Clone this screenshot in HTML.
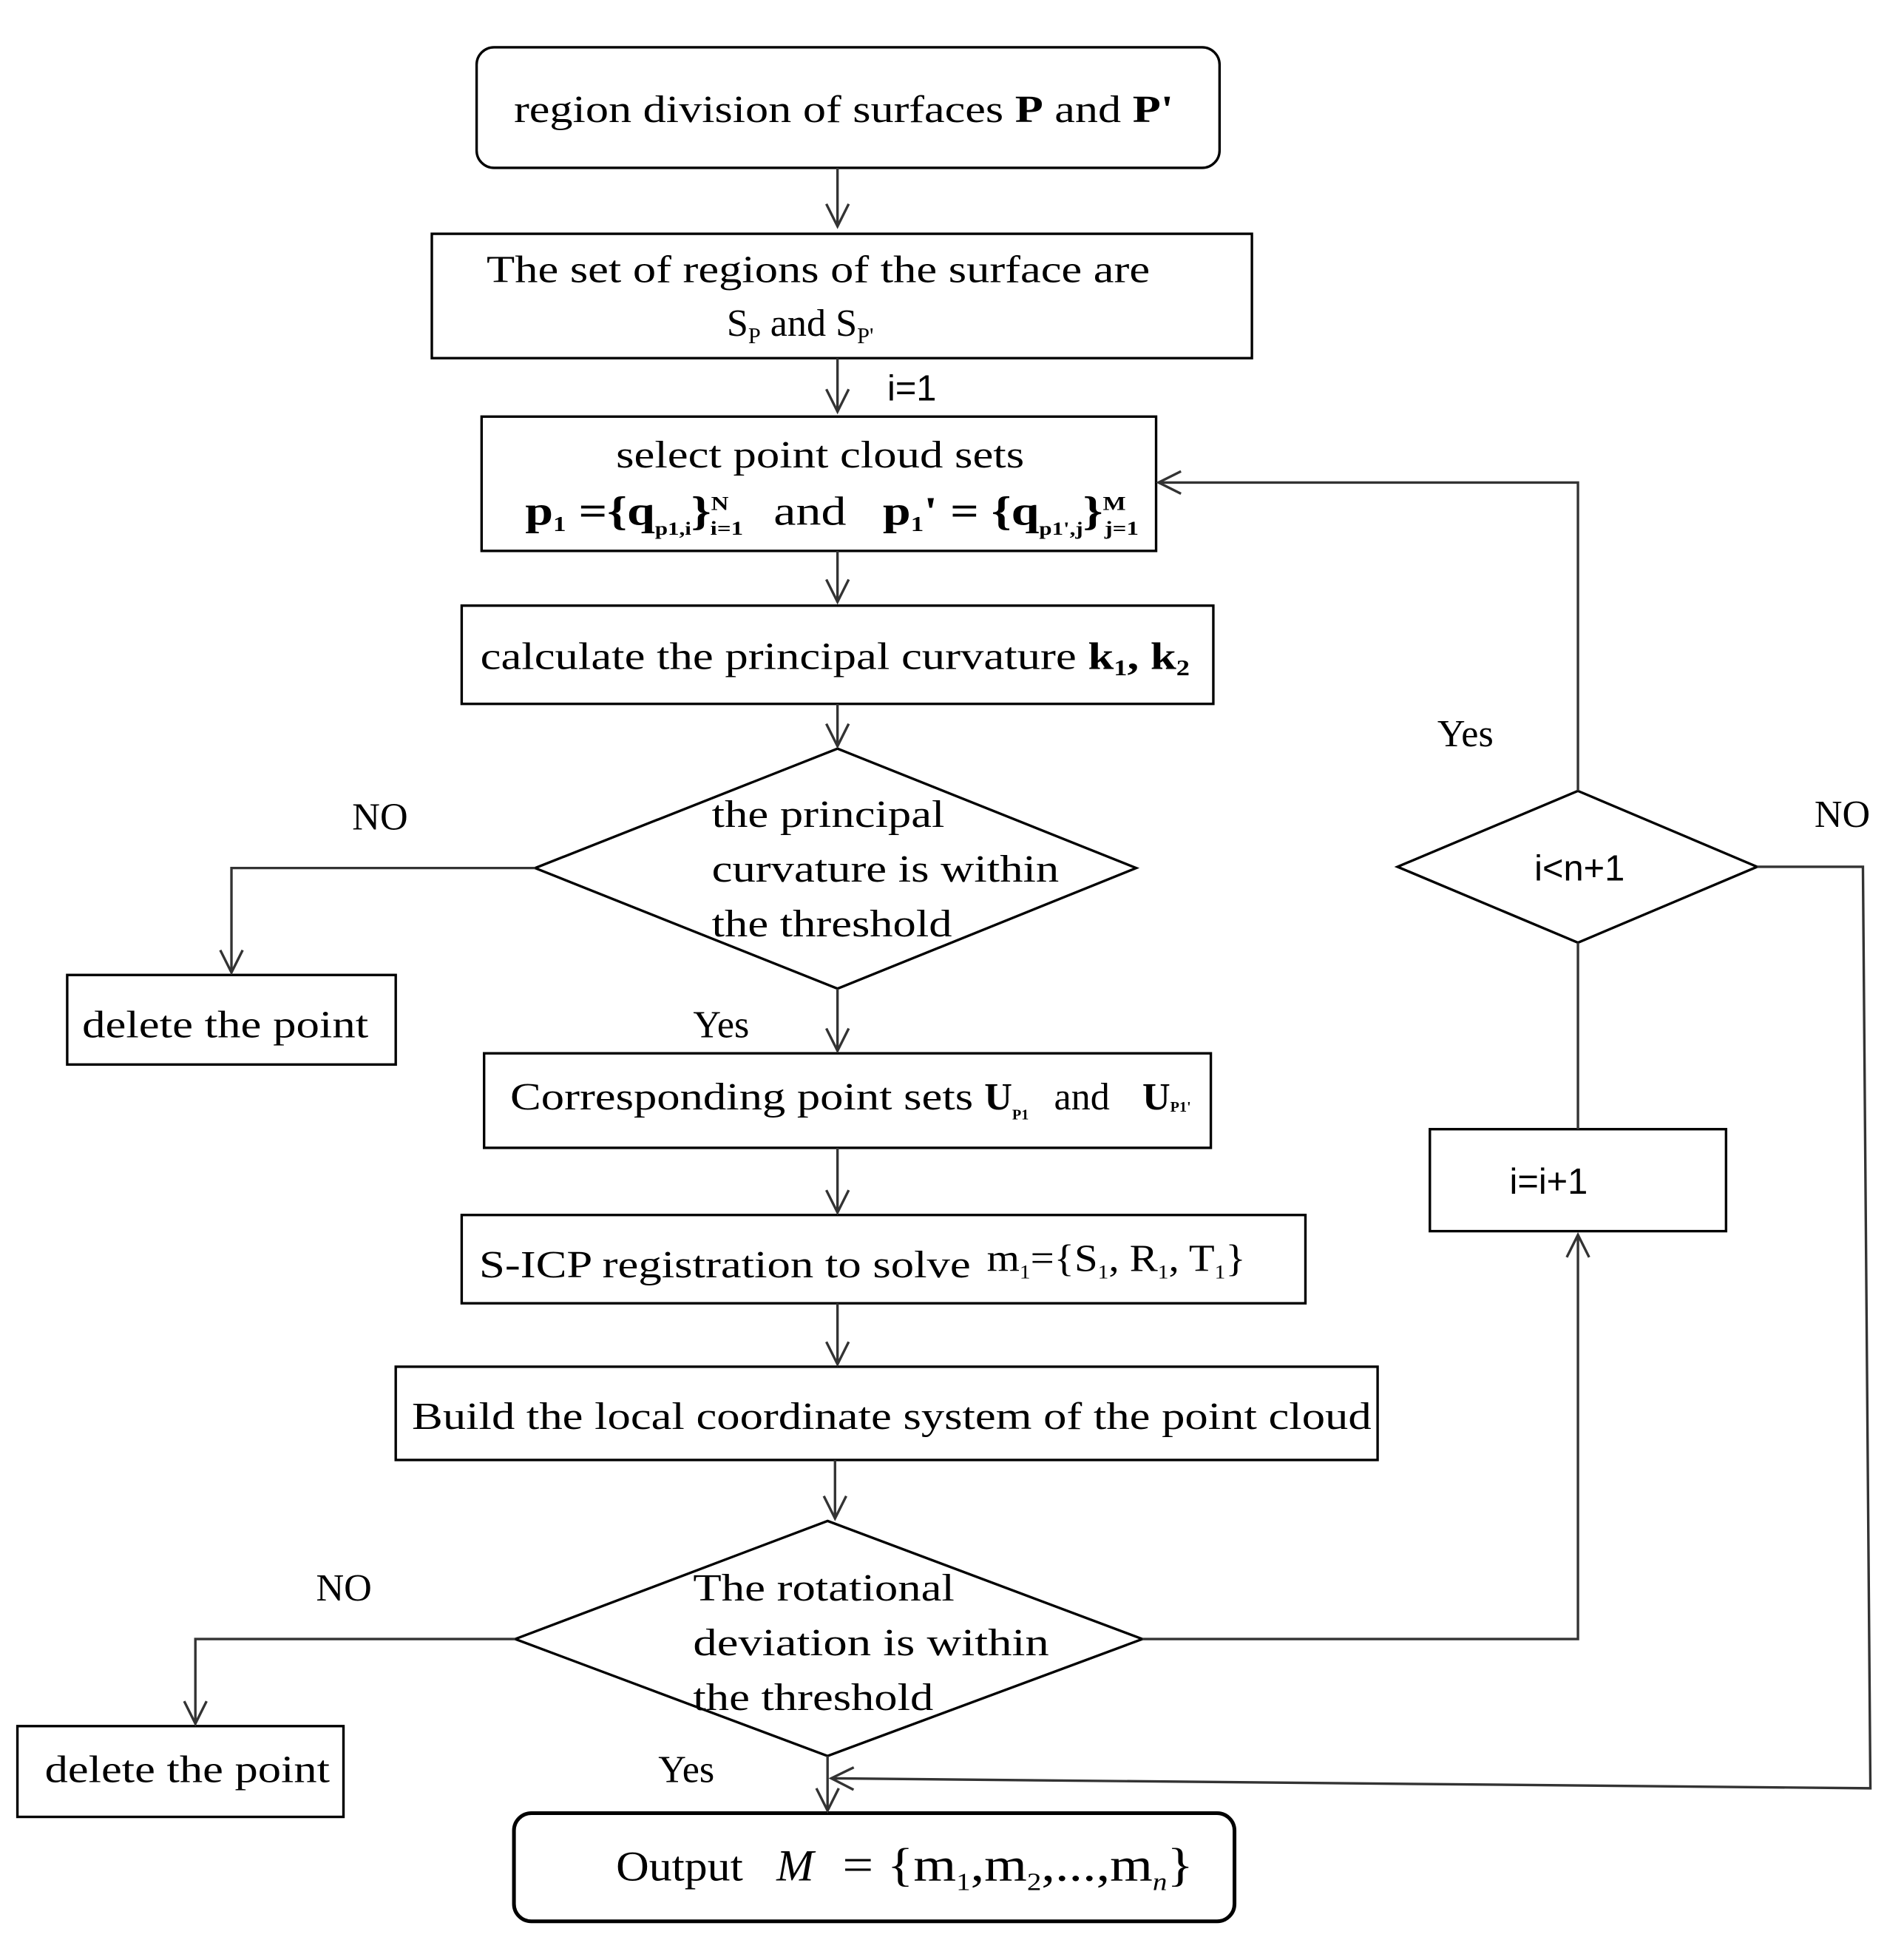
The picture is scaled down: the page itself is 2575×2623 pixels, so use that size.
<!DOCTYPE html>
<html><head><meta charset="utf-8"><style>html,body{margin:0;padding:0;background:#fff}svg{display:block}</style></head>
<body>
<svg width="2575" height="2623" viewBox="0 0 1530 1560" preserveAspectRatio="none" xmlns="http://www.w3.org/2000/svg" font-family="Liberation Serif, serif" font-size="31" fill="#000">
<defs>
<marker id="a" markerWidth="24" markerHeight="24" refX="20" refY="10" orient="auto" markerUnits="userSpaceOnUse">
<path d="M2,1 L20,10 L2,19" fill="none" stroke="#333" stroke-width="2"/>
</marker>
</defs>
<g fill="none" stroke="#000" stroke-width="2">
<rect x="383" y="38" width="597" height="97" rx="14"/>
<rect x="347" y="188" width="659" height="100"/>
<rect x="387" y="335" width="542" height="108"/>
<rect x="371" y="487" width="604" height="79"/>
<polygon points="673,602 913,698 673,795 430,698"/>
<rect x="54" y="784" width="264" height="72"/>
<rect x="389" y="847" width="584" height="76"/>
<rect x="371" y="977" width="678" height="71"/>
<rect x="318" y="1099" width="789" height="75"/>
<polygon points="665,1223 918,1318 665,1412 414,1318"/>
<rect x="14" y="1388" width="262" height="73"/>
<rect x="413" y="1458" width="579" height="87" rx="14" stroke-width="3"/>
<polygon points="1268,636 1412,697 1268,758 1123,697"/>
<rect x="1149" y="908" width="238" height="82"/>
</g>
<g fill="none" stroke="#333" stroke-width="2">
<line x1="673" y1="135" x2="673" y2="182" marker-end="url(#a)"/>
<line x1="673" y1="288" x2="673" y2="331" marker-end="url(#a)"/>
<line x1="673" y1="443" x2="673" y2="484" marker-end="url(#a)"/>
<line x1="673" y1="566" x2="673" y2="600" marker-end="url(#a)"/>
<polyline points="430,698 186,698 186,782" marker-end="url(#a)"/>
<line x1="673" y1="795" x2="673" y2="845" marker-end="url(#a)"/>
<line x1="673" y1="923" x2="673" y2="975" marker-end="url(#a)"/>
<line x1="673" y1="1048" x2="673" y2="1097" marker-end="url(#a)"/>
<line x1="671" y1="1174" x2="671" y2="1221" marker-end="url(#a)"/>
<polyline points="414,1318 157,1318 157,1386" marker-end="url(#a)"/>
<line x1="665" y1="1412" x2="665" y2="1456" marker-end="url(#a)"/>
<polyline points="918,1318 1268,1318 1268,993" marker-end="url(#a)"/>
<line x1="1268" y1="908" x2="1268" y2="758"/>
<polyline points="1268,636 1268,388 931,388" marker-end="url(#a)"/>
<polyline points="1412,697 1497,697 1503,1438 668,1430" marker-end="url(#a)"/>
</g>
<text x="413" y="98" textLength="530" lengthAdjust="spacingAndGlyphs">region division of surfaces <tspan font-weight="bold">P</tspan> and <tspan font-weight="bold">P'</tspan></text>
<text x="391" y="227" textLength="533" lengthAdjust="spacingAndGlyphs">The set of regions of the surface are</text>
<text x="584" y="270">S<tspan font-size="18" dy="6">P</tspan><tspan dy="-6"> and S</tspan><tspan font-size="18" dy="6">P'</tspan></text>
<text x="713" y="322" font-family="Liberation Sans, sans-serif" font-size="29">i=1</text>
<text x="495" y="376" textLength="328" lengthAdjust="spacingAndGlyphs">select point cloud sets</text>
<text x="422" y="422" font-size="33" textLength="493" lengthAdjust="spacingAndGlyphs"><tspan font-weight="bold">p</tspan><tspan font-size="17" dy="5" font-weight="bold">1</tspan><tspan dy="-5" font-weight="bold"> ={q</tspan><tspan font-size="15" dy="8" font-weight="bold">p1,i</tspan><tspan dy="-8" font-weight="bold">}</tspan><tspan font-size="16" dy="-12" font-weight="bold">N</tspan><tspan font-size="16" dx="-12" dy="20" font-weight="bold">i=1</tspan><tspan dy="-8" dx="20">and</tspan><tspan dx="24" font-weight="bold">p</tspan><tspan font-size="17" dy="5" font-weight="bold">1</tspan><tspan dy="-5" font-weight="bold">' = {q</tspan><tspan font-size="15" dy="8" font-weight="bold">p1',j</tspan><tspan dy="-8" font-weight="bold">}</tspan><tspan font-size="16" dy="-12" font-weight="bold">M</tspan><tspan font-size="16" dx="-14" dy="20" font-weight="bold">j=1</tspan></text>
<text x="386" y="538" textLength="570" lengthAdjust="spacingAndGlyphs">calculate the principal curvature <tspan font-weight="bold">k</tspan><tspan font-weight="bold" font-size="18" dy="5">1</tspan><tspan dy="-5" font-weight="bold">, k</tspan><tspan font-weight="bold" font-size="18" dy="5">2</tspan></text>
<text x="572" y="665" textLength="187" lengthAdjust="spacingAndGlyphs">the principal</text>
<text x="572" y="709" textLength="279" lengthAdjust="spacingAndGlyphs">curvature is within</text>
<text x="572" y="753" textLength="193" lengthAdjust="spacingAndGlyphs">the threshold</text>
<text x="283" y="667">NO</text>
<text x="1458" y="665">NO</text>
<text x="1155" y="600">Yes</text>
<text x="1233" y="708" font-family="Liberation Sans, sans-serif" font-size="29">i&lt;n+1</text>
<text x="66" y="834" textLength="230" lengthAdjust="spacingAndGlyphs">delete the point</text>
<text x="557" y="834">Yes</text>
<text x="410" y="892" textLength="372" lengthAdjust="spacingAndGlyphs">Corresponding point sets</text>
<text x="791" y="892" font-weight="bold">U<tspan font-size="12" dy="8">P1</tspan></text>
<text x="847" y="892">and</text>
<text x="918" y="892" font-weight="bold">U<tspan font-size="12" dy="2">P1'</tspan></text>
<text x="1213" y="960" font-family="Liberation Sans, sans-serif" font-size="29">i=i+1</text>
<text x="385" y="1027" textLength="395" lengthAdjust="spacingAndGlyphs">S-ICP registration to solve</text>
<text x="793" y="1022" textLength="208" lengthAdjust="spacingAndGlyphs">m<tspan font-size="16" dy="6">1</tspan><tspan dy="-6">={S</tspan><tspan font-size="16" dy="6">1</tspan><tspan dy="-6">, R</tspan><tspan font-size="16" dy="6">1</tspan><tspan dy="-6">, T</tspan><tspan font-size="16" dy="6">1</tspan><tspan dy="-6">}</tspan></text>
<text x="331" y="1149" textLength="771" lengthAdjust="spacingAndGlyphs">Build the local coordinate system of the point cloud</text>
<text x="557" y="1287" textLength="210" lengthAdjust="spacingAndGlyphs">The rotational</text>
<text x="557" y="1331" textLength="286" lengthAdjust="spacingAndGlyphs">deviation  is within</text>
<text x="557" y="1375" textLength="193" lengthAdjust="spacingAndGlyphs">the threshold</text>
<text x="254" y="1287">NO</text>
<text x="36" y="1433" textLength="229" lengthAdjust="spacingAndGlyphs">delete the point</text>
<text x="529" y="1433">Yes</text>
<text x="495" y="1512" font-size="34" textLength="102" lengthAdjust="spacingAndGlyphs">Output</text>
<text x="624" y="1512" font-style="italic" font-size="36">M</text>
<text x="677" y="1512" font-size="38" textLength="282" lengthAdjust="spacingAndGlyphs">= {m<tspan font-size="20" dy="8">1</tspan><tspan dy="-8">,m</tspan><tspan font-size="20" dy="8">2</tspan><tspan dy="-8">,...,m</tspan><tspan font-size="20" dy="8" font-style="italic">n</tspan><tspan dy="-8">}</tspan></text>
</svg>
</body></html>
